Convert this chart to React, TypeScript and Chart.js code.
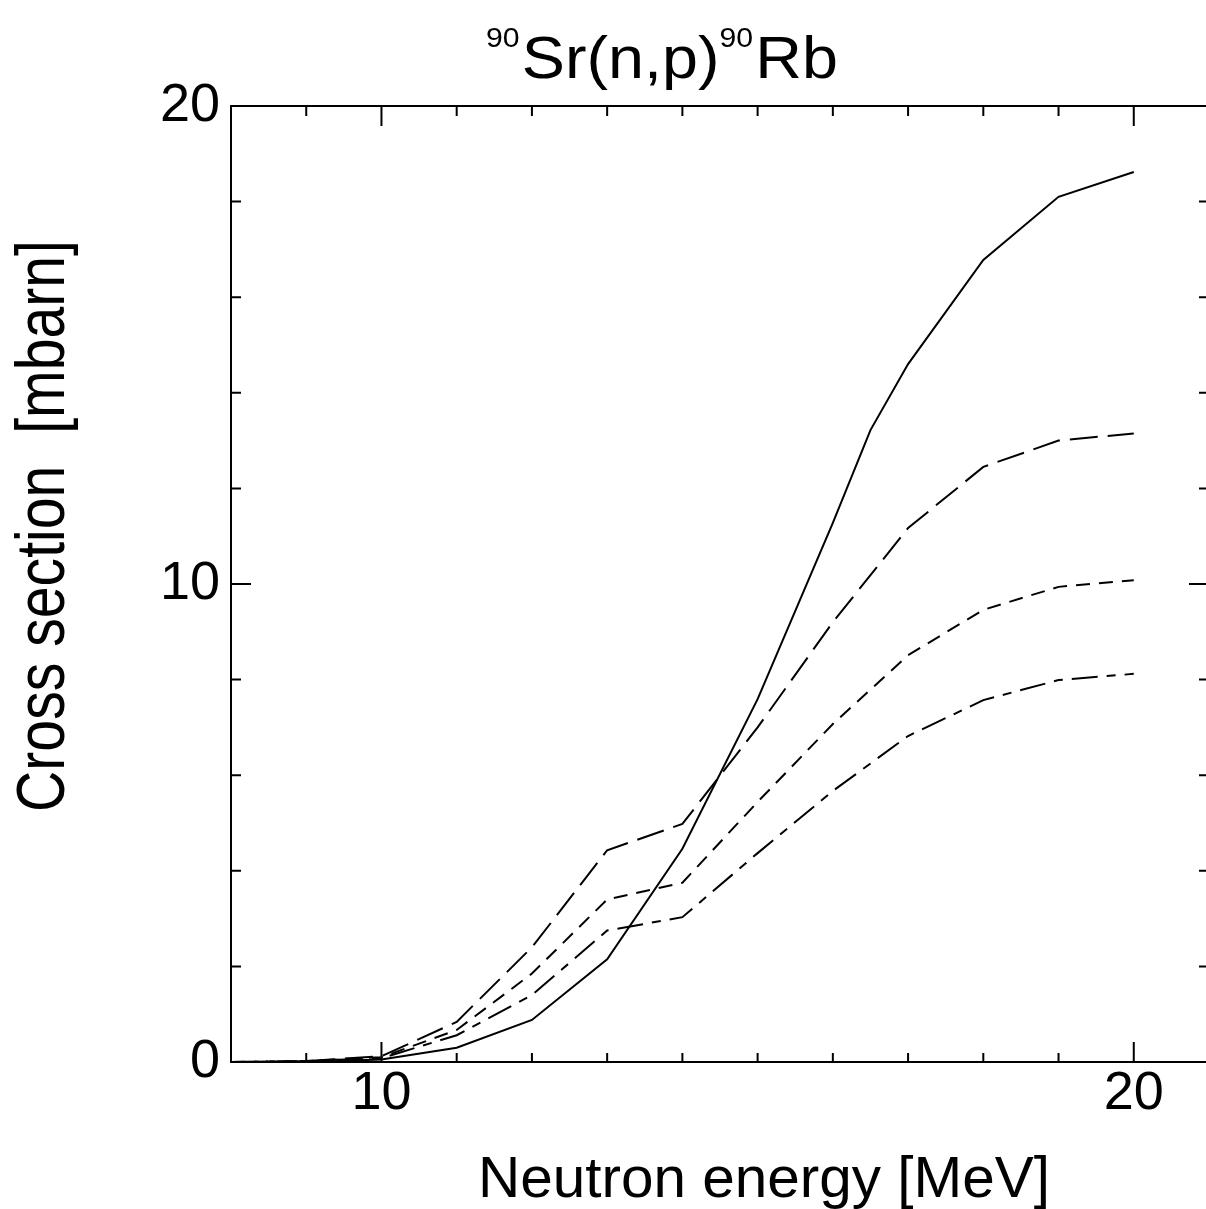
import React, { useEffect, useRef } from 'react';
import { Chart, registerables } from 'chart.js';

Chart.register(...registerables);

// ---- data ----
const energies = [8, 9, 10, 11, 12, 13, 14, 15, 16, 17, 18, 19, 20];
const solidEnergies = [8, 9, 10, 11, 12, 13, 14, 15, 16, 16.5, 17, 18, 19, 20];
const solidValues = [0, 0, 0.05, 0.3, 0.88, 2.15, 4.46, 7.59, 11.28, 13.22, 14.6, 16.78, 18.1, 18.62];
const longDashValues = [0, 0.02, 0.12, 0.84, 2.4, 4.43, 4.98, 7.0, 9.2, 11.17, 12.45, 13.0, 13.15];
const shortDashValues = [0, 0.02, 0.1, 0.67, 1.85, 3.4, 3.75, 5.44, 7.07, 8.51, 9.46, 9.94, 10.08];
const dashDotValues = [0, 0.02, 0.08, 0.56, 1.4, 2.75, 3.03, 4.37, 5.67, 6.82, 7.57, 7.99, 8.12];

const xLabeledTicks = [10, 20];
const yLabeledTicks = [0, 10, 20];

const titleParts = [
  { text: '90', sup: true },
  { text: 'Sr(n,p)', sup: false },
  { text: '90', sup: true },
  { text: 'Rb', sup: false },
];
const xAxisTitle = 'Neutron energy [MeV]';
const yAxisTitle = 'Cross section  [mbarn]';

const FONT = "'Liberation Sans', Arial, Helvetica, sans-serif";

const toPoints = (xs: number[], ys: number[]) => xs.map((x, i) => ({ x, y: ys[i] }));

const framePlugin = {
  id: 'frameAndTicks',
  afterDraw(chart: any) {
    const { ctx, chartArea: a, scales } = chart;
    const x = scales.x;
    const y = scales.y;
    ctx.save();
    ctx.strokeStyle = '#000';
    ctx.lineWidth = 2;
    ctx.strokeRect(a.left, a.top, a.right - a.left, a.bottom - a.top);
    ctx.lineWidth = 2;
    ctx.beginPath();
    x.ticks.forEach((t: any) => {
      const px = x.getPixelForValue(t.value);
      const major = xLabeledTicks.includes(t.value);
      const lb = major ? 20 : 9;
      const lt = major ? 20 : 10;
      ctx.moveTo(px, a.bottom);
      ctx.lineTo(px, a.bottom - lb);
      ctx.moveTo(px, a.top);
      ctx.lineTo(px, a.top + lt);
    });
    y.ticks.forEach((t: any) => {
      const py = y.getPixelForValue(t.value);
      const major = yLabeledTicks.includes(t.value);
      const l = major ? 20 : 10;
      ctx.moveTo(a.left, py);
      ctx.lineTo(a.left + l, py);
      ctx.moveTo(a.right, py);
      ctx.lineTo(a.right - l, py);
    });
    ctx.stroke();
    ctx.restore();
  },
};

const textPlugin = {
  id: 'titles',
  afterDraw(chart: any) {
    const { ctx } = chart;
    ctx.save();
    ctx.fillStyle = '#000';
    ctx.textBaseline = 'alphabetic';

    // main title with superscripts
    const mainSize = 60;
    const supSize = 28;
    const widths = titleParts.map((p) => {
      ctx.font = `${p.sup ? supSize : mainSize}px ${FONT}`;
      return ctx.measureText(p.text).width + (p.sup ? 2 : 0);
    });
    const total = widths.reduce((s, w) => s + w, 0);
    const targetW = 352;
    const sx = targetW / total;
    ctx.save();
    ctx.translate(662 - targetW / 2, 0);
    ctx.scale(sx, 1);
    let cx = 0;
    titleParts.forEach((p, i) => {
      ctx.font = `${p.sup ? supSize : mainSize}px ${FONT}`;
      ctx.textAlign = 'left';
      ctx.fillText(p.text, cx, p.sup ? 47 : 78);
      cx += widths[i];
    });
    ctx.restore();

    // x axis title
    ctx.save();
    ctx.font = `58px ${FONT}`;
    ctx.textAlign = 'center';
    const xw = ctx.measureText(xAxisTitle).width;
    ctx.translate(764, 1197);
    ctx.scale(572 / xw, 1);
    ctx.fillText(xAxisTitle, 0, 0);
    ctx.restore();

    // y axis title
    ctx.save();
    ctx.font = `68px ${FONT}`;
    ctx.textAlign = 'center';
    const yw = ctx.measureText(yAxisTitle).width;
    ctx.translate(64, 526);
    ctx.rotate(-Math.PI / 2);
    ctx.scale(572 / yw, 1);
    ctx.fillText(yAxisTitle, 0, 0);
    ctx.restore();

    ctx.restore();
  },
};

export default function App() {
  const ref = useRef<HTMLCanvasElement | null>(null);

  useEffect(() => {
    if (!ref.current) return;
    const line = (data: any, dash: number[]) => ({
      data,
      borderColor: '#000',
      backgroundColor: '#000',
      borderWidth: 2,
      borderDash: dash,
      pointRadius: 0,
      tension: 0,
      fill: false,
    });
    const chart = new Chart(ref.current, {
      type: 'line',
      data: {
        datasets: [
          { label: 'solid', ...line(toPoints(solidEnergies, solidValues), []) },
          { label: 'long dash', ...line(toPoints(energies, longDashValues), [28, 10]) },
          { label: 'short dash', ...line(toPoints(energies, shortDashValues), [14, 9]) },
          { label: 'dash dot', ...line(toPoints(energies, dashDotValues), [26, 9, 9, 9]) },
        ],
      },
      options: {
        animation: false,
        responsive: true,
        maintainAspectRatio: false,
        layout: { padding: { left: 0, top: 106, right: 11, bottom: 0 } },
        plugins: {
          legend: { display: false },
          tooltip: { enabled: false },
          title: { display: false },
        },
        scales: {
          x: {
            type: 'linear',
            min: 8,
            max: 21,
            grid: { display: false, drawTicks: false },
            border: { display: false },
            ticks: {
              stepSize: 1,
              autoSkip: false,
              maxRotation: 0,
              padding: 0,
              color: '#000',
              font: { family: FONT, size: 54 },
              callback: (v: any) => (xLabeledTicks.includes(Number(v)) ? String(v) : ''),
            },
            afterFit: (s: any) => {
              s.height = 147;
            },
          },
          y: {
            type: 'linear',
            min: 0,
            max: 20,
            grid: { display: false, drawTicks: false },
            border: { display: false },
            ticks: {
              stepSize: 2,
              autoSkip: false,
              padding: 11,
              color: '#000',
              font: { family: FONT, size: 54 },
              callback: (v: any) => (yLabeledTicks.includes(Number(v)) ? String(v) : ''),
            },
            afterFit: (s: any) => {
              s.width = 231;
            },
          },
        },
      },
      plugins: [framePlugin, textPlugin],
    });
    return () => chart.destroy();
  }, []);

  return (
    <div
      style={{
        position: 'fixed',
        left: 0,
        top: 0,
        width: 1206,
        height: 1209,
        overflow: 'hidden',
        background: '#fff',
      }}
    >
      <div style={{ position: 'relative', width: 1220, height: 1209 }}>
        <canvas ref={ref} />
      </div>
    </div>
  );
}
